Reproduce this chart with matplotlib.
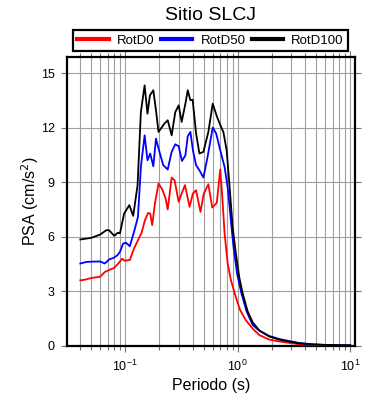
import matplotlib
matplotlib.use("Agg")
import matplotlib.pyplot as plt
import numpy as np
from matplotlib.ticker import LogLocator, MultipleLocator

plt.rcParams['font.family'] = ['Liberation Sans', 'DejaVu Sans']

# periodos (s) y PSA (cm/s2)
t_rotd0 = [0.040, 0.045, 0.050, 0.060, 0.066, 0.072, 0.080, 0.087, 0.094, 0.099,
           0.110, 0.120, 0.130, 0.140, 0.150, 0.160, 0.167, 0.174, 0.184, 0.198,
           0.214, 0.229, 0.239, 0.259, 0.275, 0.299, 0.318, 0.340, 0.374, 0.400,
           0.427, 0.467, 0.500, 0.549, 0.594, 0.652, 0.700, 0.730, 0.765, 0.815,
           0.870, 0.960, 1.05, 1.18, 1.36, 1.56, 1.91, 2.35, 2.88, 3.5,
           4.5, 6.0, 8.0, 10.0]
psa_rotd0 = [3.61, 3.66, 3.74, 3.81, 4.07, 4.18, 4.30, 4.54, 4.80, 4.69,
             4.73, 5.37, 5.82, 6.23, 6.92, 7.32, 7.29, 6.65, 7.84, 8.94,
             8.61, 8.11, 7.51, 9.27, 9.12, 7.93, 8.39, 8.85, 7.66, 8.39,
             8.57, 7.38, 8.39, 8.90, 7.62, 7.87, 9.72, 8.20, 6.19, 4.54,
             3.63, 2.71, 1.98, 1.43, 0.95, 0.60, 0.35, 0.25, 0.17, 0.10,
             0.06, 0.04, 0.03, 0.025]

t_rotd50 = [0.040, 0.045, 0.050, 0.060, 0.066, 0.072, 0.079, 0.085, 0.090, 0.096,
            0.102, 0.110, 0.120, 0.130, 0.138, 0.149, 0.158, 0.167, 0.178, 0.188,
            0.200, 0.218, 0.239, 0.259, 0.279, 0.299, 0.320, 0.343, 0.360, 0.380,
            0.400, 0.427, 0.457, 0.496, 0.540, 0.600, 0.644, 0.700, 0.765, 0.820,
            0.870, 0.920, 0.990, 1.08, 1.20, 1.36, 1.55, 1.91, 2.35, 2.88,
            3.5, 4.5, 6.0, 8.0, 10.0]
psa_rotd50 = [4.54, 4.62, 4.64, 4.65, 4.54, 4.76, 4.85, 4.98, 5.18, 5.64,
              5.68, 5.49, 6.28, 7.10, 9.85, 11.59, 10.22, 10.59, 9.89, 11.41,
              10.77, 9.95, 9.71, 10.68, 11.10, 10.99, 10.18, 10.49, 11.54, 11.78,
              10.77, 9.95, 9.67, 9.27, 10.40, 12.02, 11.69, 10.77, 9.85, 8.60,
              6.90, 5.40, 3.95, 2.90, 1.90, 1.15, 0.85, 0.55, 0.38, 0.27,
              0.17, 0.10, 0.06, 0.04, 0.035]

t_rotd100 = [0.040, 0.050, 0.060, 0.068, 0.072, 0.080, 0.086, 0.090, 0.098, 0.109,
             0.118, 0.129, 0.138, 0.149, 0.158, 0.166, 0.178, 0.188, 0.198, 0.223,
             0.239, 0.259, 0.279, 0.299, 0.318, 0.343, 0.360, 0.380, 0.398, 0.427,
             0.457, 0.496, 0.549, 0.600, 0.656, 0.712, 0.746, 0.798, 0.844, 0.903,
             0.968, 1.035, 1.107, 1.227, 1.36, 1.56, 1.91, 2.35, 2.88, 3.5,
             4.5, 6.0, 8.0, 10.0]
psa_rotd100 = [5.86, 5.95, 6.13, 6.37, 6.37, 6.06, 6.23, 6.20, 7.29, 7.75,
               7.16, 8.85, 12.87, 14.34, 12.78, 13.79, 14.07, 12.97, 11.78, 12.23,
               12.42, 11.59, 12.87, 13.24, 12.33, 13.33, 14.07, 13.52, 13.55, 11.69,
               10.59, 10.68, 11.78, 13.33, 12.60, 12.05, 11.78, 10.77, 8.90, 6.50,
               5.00, 3.75, 2.90, 1.90, 1.30, 0.85, 0.52, 0.35, 0.24, 0.15,
               0.09, 0.06, 0.045, 0.04]

fig = plt.figure(figsize=(3.9, 4.0), dpi=100)
ax = fig.add_axes([0.172, 0.135, 0.738, 0.7225])

ax.plot(t_rotd0, psa_rotd0, color='red', lw=1.3, label='RotD0', zorder=3)
ax.plot(t_rotd50, psa_rotd50, color='blue', lw=1.3, label='RotD50', zorder=3)
ax.plot(t_rotd100, psa_rotd100, color='black', lw=1.3, label='RotD100', zorder=3)

ax.set_xscale('log')
ax.set_xlim(0.0305, 11.0)
ax.set_ylim(0, 15.9)
ax.xaxis.set_major_locator(LogLocator(base=10))
ax.xaxis.set_minor_locator(LogLocator(base=10, subs=np.arange(2, 10)))
ax.yaxis.set_major_locator(MultipleLocator(3))

ax.grid(True, which='both', axis='x', color='#a0a0a0', lw=0.8, zorder=0)
ax.grid(True, which='major', axis='y', color='#a0a0a0', lw=0.8, zorder=0)

for s in ax.spines.values():
    s.set_linewidth(1.6)
ax.tick_params(which='major', direction='out', length=4, width=0.8,
               top=True, right=True, labelsize=9, pad=5, color='#707070')
ax.tick_params(which='minor', direction='out', length=3, width=0.8,
               top=True, right=False, color='#707070')

ax.set_xlabel('Periodo (s)', fontsize=11.5, labelpad=3)
ax.set_ylabel('PSA (cm/s$^2$)', fontsize=11.5, labelpad=0)
fig.text(0.541, 0.962, 'Sitio SLCJ', fontsize=14, ha='center', va='center')

leg = ax.legend(loc='lower left', bbox_to_anchor=(0.021, 1.02, 0.955, 0.07),
                mode='expand', ncol=3, fontsize=9.5, handlelength=2.4,
                handletextpad=0.6, borderpad=0.33, fancybox=False,
                framealpha=1, edgecolor='black', borderaxespad=0)
leg.get_frame().set_linewidth(1.6)
for line in leg.get_lines():
    line.set_linewidth(3)

fig.savefig('out.png', dpi=100)
